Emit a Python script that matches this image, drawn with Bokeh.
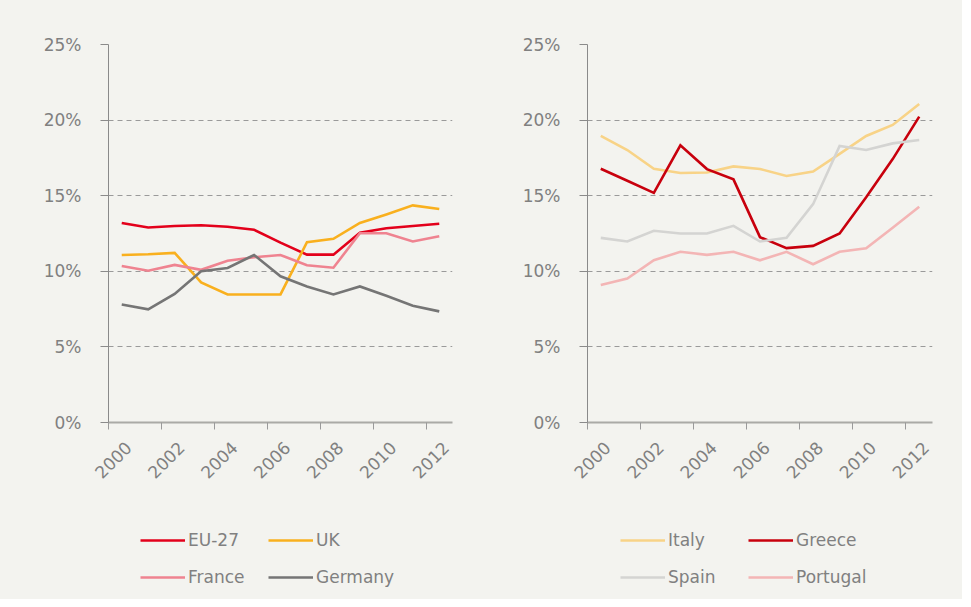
import math
from bokeh.plotting import figure
from bokeh.layouts import row, column
from bokeh.models import (FixedTicker, LinearAxis, CustomJSTickFormatter, PrintfTickFormatter,
                          Legend, LegendItem, Range1d)
from bokeh.embed import file_html
from bokeh.resources import INLINE

years = list(range(2000, 2013))
tick_years = years[::2]
y_ticks = [0, 5, 10, 15, 20, 25]

# Left panel (% values)
eu27 = [13.2, 12.9, 13.0, 13.05, 12.95, 12.75, 11.9, 11.1, 11.1, 12.55, 12.85, 13.0, 13.15]
uk = [11.08, 11.13, 11.22, 9.27, 8.47, 8.47, 8.47, 11.92, 12.15, 13.2, 13.76, 14.36, 14.12]
france = [10.35, 10.04, 10.42, 10.1, 10.7, 10.93, 11.08, 10.4, 10.24, 12.52, 12.52, 11.97, 12.32]
germany = [7.81, 7.48, 8.5, 10.0, 10.22, 11.08, 9.67, 9.0, 8.47, 9.0, 8.38, 7.72, 7.35]

# Right panel (% values)
italy = [18.95, 18.02, 16.78, 16.5, 16.53, 16.94, 16.77, 16.3, 16.6, 17.77, 18.95, 19.68, 21.07]
greece = [16.78, 15.99, 15.19, 18.33, 16.76, 16.08, 12.26, 11.53, 11.68, 12.5, 14.89, 17.42, 20.23]
spain = [12.21, 11.97, 12.68, 12.5, 12.5, 13.01, 11.97, 12.21, 14.44, 18.29, 18.02, 18.46, 18.68]
portugal = [9.1, 9.52, 10.73, 11.29, 11.09, 11.29, 10.73, 11.29, 10.47, 11.29, 11.53, 12.88, 14.27]

left_series = [("EU-27", eu27, "#e3001b"), ("UK", uk, "#f9b01e"),
               ("France", france, "#ef8390"), ("Germany", germany, "#757575")]
right_series = [("Italy", italy, "#f8d387"), ("Greece", greece, "#c8000d"),
                ("Spain", spain, "#d4d4d2"), ("Portugal", portugal, "#f3b5b5")]

BG = "#f3f3ef"
TXT = "#808080"
FONT = "DejaVu Sans"
LABEL_SHIFT = 0.75
LINE_W = 2.6
BG_STYLE = {"background-color": BG}


def make_panel(series, width, border_left):
    p = figure(width=width, height=512, output_backend="svg", toolbar_location=None,
               x_range=Range1d(years[0], years[-1] + 1), y_range=Range1d(0, 25),
               min_border_left=border_left, min_border_right=30,
               min_border_top=44, min_border_bottom=90, styles=BG_STYLE)
    p.background_fill_color = BG
    p.border_fill_color = BG
    p.outline_line_color = None
    p.xgrid.grid_line_color = None
    p.ygrid.grid_line_color = "#9a9a9a"
    p.ygrid.grid_line_dash = "5 4"
    p.ygrid.grid_line_width = 1

    yax = p.yaxis[0]
    yax.ticker = FixedTicker(ticks=y_ticks)
    yax.formatter = PrintfTickFormatter(format="%d%%")
    yax.axis_line_color = "#8a8a8a"
    yax.axis_line_width = 1
    yax.major_tick_line_color = "#8a8a8a"
    yax.major_tick_out = 8
    yax.major_tick_in = 0
    yax.minor_tick_line_color = None
    yax.major_label_text_font = FONT
    yax.major_label_text_font_size = "17px"
    yax.major_label_text_color = TXT
    yax.major_label_standoff = 19

    xax = p.xaxis[0]
    xax.ticker = FixedTicker(ticks=tick_years)
    xax.formatter = CustomJSTickFormatter(code="return ''")
    xax.axis_line_color = "#aaaaa6"
    xax.axis_line_width = 2
    xax.major_tick_line_color = "#9a9a9a"
    xax.major_tick_out = 7
    xax.major_tick_in = 0
    xax.minor_tick_line_color = None
    xax.major_label_standoff = 0

    lab = LinearAxis(ticker=FixedTicker(ticks=[y + LABEL_SHIFT for y in tick_years]),
                     formatter=CustomJSTickFormatter(code="return String(Math.round(tick - %s))" % LABEL_SHIFT),
                     axis_line_color=None, major_tick_line_color=None, minor_tick_line_color=None,
                     major_tick_out=0, major_tick_in=0,
                     major_label_orientation=math.pi / 4,
                     major_label_text_font=FONT, major_label_text_font_size="17px",
                     major_label_text_color=TXT, major_label_standoff=15)
    p.add_layout(lab, "below")

    xs = [y + 0.5 for y in years]
    for name, vals, col in series:
        p.line(xs, vals, line_color=col, line_width=LINE_W, line_join="miter")
    return p


def make_legend(series, width, legend_x):
    lf = figure(width=width, height=87, output_backend="svg", toolbar_location=None,
                x_axis_type=None, y_axis_type=None, min_border=0,
                x_range=Range1d(0, 1), y_range=Range1d(0, 1), styles=BG_STYLE)
    lf.background_fill_color = BG
    lf.border_fill_color = BG
    lf.outline_line_color = None
    lf.grid.grid_line_color = None
    items = []
    for name, vals, col in series:
        r = lf.line([y + 0.5 for y in years], vals, line_color=col, line_width=LINE_W, visible=False)
        items.append(LegendItem(label=name, renderers=[r]))
    leg = Legend(items=items, location=(legend_x, 12), orientation="horizontal", ncols=2,
                 glyph_width=45, glyph_height=20, label_height=20, label_width=63,
                 label_standoff=3, spacing=17, padding=0, margin=0,
                 label_text_font=FONT, label_text_font_size="17px", label_text_color=TXT,
                 border_line_color=None, background_fill_alpha=0,
                 inactive_fill_alpha=0, click_policy="none")
    lf.add_layout(leg, "center")
    return lf


p1 = make_panel(left_series, 482, 108)
p2 = make_panel(right_series, 480, 105)
l1 = make_legend(left_series, 482, 140)
l2 = make_legend(right_series, 480, 138)
layout = column(row(p1, p2, spacing=0, styles=BG_STYLE),
                row(l1, l2, spacing=0, styles=BG_STYLE),
                spacing=0, styles=BG_STYLE)

open("out.html", "w").write(file_html(layout, INLINE))
